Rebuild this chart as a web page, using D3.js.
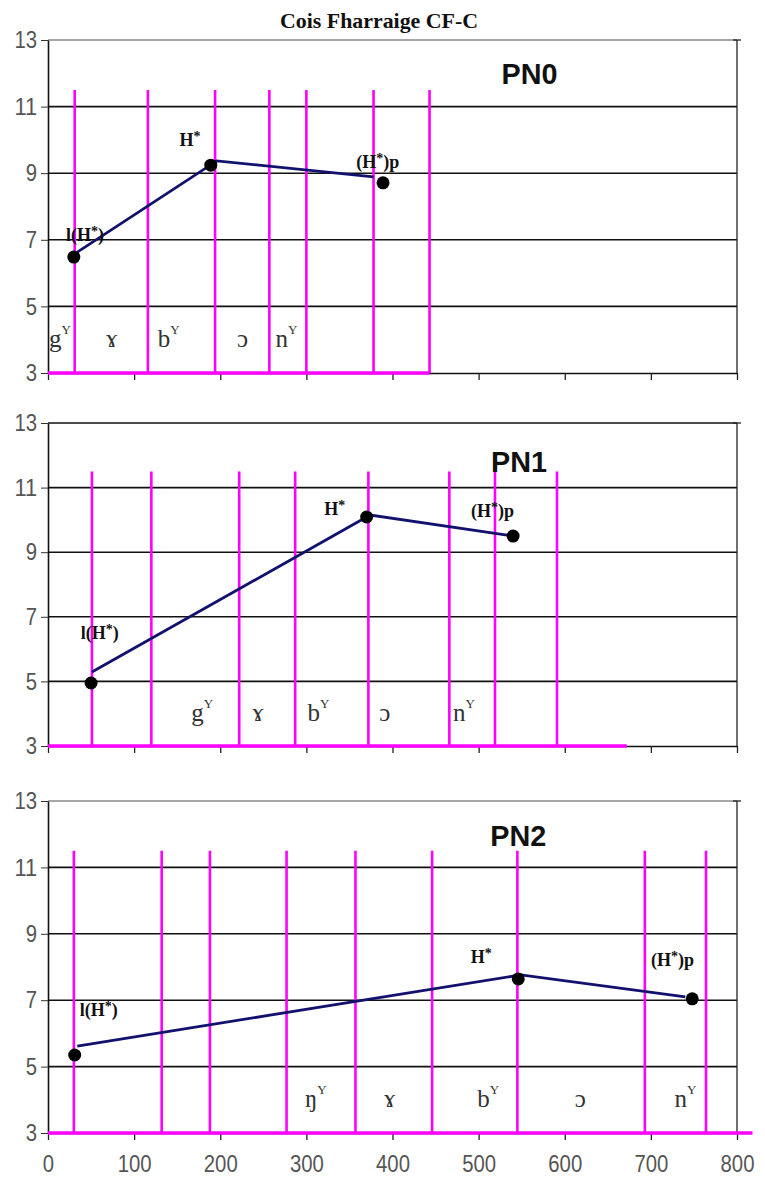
<!DOCTYPE html>
<html>
<head>
<meta charset="utf-8">
<script src="https://cdn.jsdelivr.net/npm/d3@7"></script>
<style>
  body { margin: 0; background: #fff; }
</style>
</head>
<body>
<div id="chart"></div>
<script>
// valeurs
const title = "Cois Fharraige CF-C";
const panelNames = ["PN0", "PN1", "PN2"];
const yTicks = [3, 5, 7, 9, 11, 13];
const xTicks = [0, 100, 200, 300, 400, 500, 600, 700, 800];

// frontieres des segments (lignes magenta)
const bounds0 = [31, 116, 194, 257, 300, 378, 443];
const bounds1 = [51, 120, 222, 287, 372, 466, 519, 591];
const bounds2 = [30, 132, 188, 277, 357, 446, 545, 693, 764];
const baseEnd = [443, 672, 818];

// cibles tonales (points) et contour (ligne)
const pointNames = ["l(H*)", "H*", "(H*)p"];
const dotX0 = [30, 189, 389], dotY0 = [6.48, 9.24, 8.71];
const dotX1 = [50, 370, 540], dotY1 = [4.95, 10.09, 9.5];
const dotX2 = [31, 546, 748], dotY2 = [5.35, 7.64, 7.04];
const lineX0 = [34, 196, 378], lineY0 = [6.63, 9.37, 8.89];
const lineX1 = [51, 374, 533], lineY1 = [5.29, 10.15, 9.53];
const lineX2 = [34, 549, 740], lineY2 = [5.62, 7.76, 7.1];

// etiquettes des points
const labX0 = [43, 165, 383], labY0 = [7.14, 10.0, 9.34];
const labX1 = [60, 333, 516], labY1 = [6.5, 10.34, 10.28];
const labX2 = [59, 503, 725], labY2 = [6.7, 8.3, 8.2];

// segments
const seg0 = ["g", "ɤ", "b", "ɔ", "n"], sup0 = ["Y", "", "Y", "", "Y"];
const seg1 = ["g", "ɤ", "b", "ɔ", "n"], sup1 = ["Y", "", "Y", "", "Y"];
const seg2 = ["ŋ", "ɤ", "b", "ɔ", "n"], sup2 = ["Y", "", "Y", "", "Y"];
const segX0 = [14, 74, 140, 226, 277];
const segX1 = [179, 244, 314, 391, 483];
const segX2 = [311, 397, 511, 618, 740];
const segY = 4.05;

// position des titres PN
const nameX = [559, 547, 546], nameY = [12.0, 11.8, 11.97];

const panels = [
  { bounds: bounds0, dx: dotX0, dy: dotY0, lx: lineX0, ly: lineY0, tx: labX0, ty: labY0, seg: seg0, sup: sup0, sx: segX0 },
  { bounds: bounds1, dx: dotX1, dy: dotY1, lx: lineX1, ly: lineY1, tx: labX1, ty: labY1, seg: seg1, sup: sup1, sx: segX1 },
  { bounds: bounds2, dx: dotX2, dy: dotY2, lx: lineX2, ly: lineY2, tx: labX2, ty: labY2, seg: seg2, sup: sup2, sx: segX2 }
];

const width = 765, height = 1193;
const panelTop = [40, 423, 801], panelBottom = [373, 746, 1133];
const sans = "'Liberation Sans', Arial, sans-serif";
const serif = "'Liberation Serif', 'Times New Roman', 'DejaVu Serif', serif";

const svg = d3.select("#chart").append("svg")
  .attr("width", width).attr("height", height)
  .style("background", "#fff");

const x = d3.scaleLinear().domain([0, 800]).range([48, 737]);

// Titre
svg.append("text")
  .attr("x", 379).attr("y", 21)
  .attr("text-anchor", "middle")
  .attr("dominant-baseline", "central")
  .attr("textLength", 198).attr("lengthAdjust", "spacingAndGlyphs")
  .style("font-family", serif)
  .style("font-weight", "bold")
  .style("font-size", "21px")
  .style("fill", "#111")
  .text(title);

function addLabel(g, px, py, s) {
  // l'asterisque est en exposant
  const t = g.append("text")
    .attr("x", px).attr("y", py)
    .attr("text-anchor", "middle")
    .style("font-family", serif)
    .style("font-weight", "bold")
    .style("font-size", "18px")
    .style("fill", "#111");
  const parts = s.split("*");
  parts.forEach((p, i) => {
    if (i > 0) t.append("tspan").attr("dy", -5).style("font-size", "14px").text("*");
    if (p) t.append("tspan").attr("dy", i > 0 ? 5 : 0).text(p);
  });
}

// chiffres etroits
function narrowText(sel, size) {
  sel.style("font-family", sans)
    .style("font-size", size + "px")
    .style("fill", "#555")
    .attr("textLength", function () { return this.textContent.length * 11.3; })
    .attr("lengthAdjust", "spacingAndGlyphs");
}

panels.forEach(function (p, k) {
  const y = d3.scaleLinear().domain([3, 13]).range([panelBottom[k], panelTop[k]]);
  const g = svg.append("g");

  // grille horizontale
  g.selectAll(".grid")
    .data(yTicks.filter((d) => d > 3))
    .enter().append("line")
    .attr("x1", x(0)).attr("x2", x(800))
    .attr("y1", (d) => y(d)).attr("y2", (d) => y(d))
    .style("stroke", (d) => (d === 13 && k !== 1 ? "#8a8a8a" : "#111"))
    .style("stroke-width", 1.6);

  // axe y
  const ya = g.append("g")
    .attr("transform", "translate(" + x(0) + ",0)")
    .call(d3.axisLeft(y).tickValues(yTicks).tickSize(7).tickSizeOuter(0));
  ya.select(".domain").style("stroke", "#111").style("stroke-width", 1.6);
  ya.selectAll(".tick line").style("stroke", "#333");
  ya.selectAll("text").attr("x", -11).call(narrowText, 24);

  // axe de droite
  g.append("line")
    .attr("x1", x(800)).attr("x2", x(800))
    .attr("y1", y(3)).attr("y2", y(13))
    .style("stroke", "#222").style("stroke-width", 1.3);
  g.append("line")
    .attr("x1", x(800) - 4).attr("x2", x(800) + 4)
    .attr("y1", y(13)).attr("y2", y(13))
    .style("stroke", "#222").style("stroke-width", 1.3);

  // axe x
  const xa = g.append("g")
    .attr("transform", "translate(0," + y(3) + ")")
    .call(d3.axisBottom(x).tickValues(xTicks).tickSize(7).tickSizeOuter(0)
      .tickFormat(k === 2 ? d3.format("d") : () => ""));
  xa.select(".domain").style("stroke", "#111").style("stroke-width", 1.6);
  xa.selectAll(".tick line").style("stroke", "#222").style("stroke-width", 1.3);
  if (k === 2) xa.selectAll("text").attr("y", 22).call(narrowText, 24);

  // lignes magenta
  g.selectAll(".bound")
    .data(p.bounds)
    .enter().append("line")
    .attr("x1", (d) => x(d)).attr("x2", (d) => x(d))
    .attr("y1", y(11.5)).attr("y2", y(3))
    .style("stroke", "#ff00ff")
    .style("stroke-width", 2.6);
  g.append("line")
    .attr("x1", x(0)).attr("x2", x(baseEnd[k]))
    .attr("y1", y(3)).attr("y2", y(3))
    .style("stroke", "#ff00ff")
    .style("stroke-width", 3.5);

  // segments
  p.seg.forEach(function (s, i) {
    const t = g.append("text")
      .attr("x", x(p.sx[i])).attr("y", y(segY))
      .attr("text-anchor", "middle")
      .attr("dominant-baseline", "central")
      .style("font-family", serif)
      .style("font-size", "25px")
      .style("fill", "#333")
      .text(s);
    if (p.sup[i]) t.append("tspan").attr("dy", -9).style("font-size", "13px").text(p.sup[i]);
  });

  // contour
  const line = d3.line().x((d) => x(d[0])).y((d) => y(d[1]));
  g.append("path")
    .datum(p.lx.map((v, i) => [v, p.ly[i]]))
    .attr("d", line)
    .style("fill", "none")
    .style("stroke", "#12126e")
    .style("stroke-width", 2.8);

  // points
  g.selectAll(".dot")
    .data(p.dx.map((v, i) => [v, p.dy[i]]))
    .enter().append("circle")
    .attr("cx", (d) => x(d[0])).attr("cy", (d) => y(d[1]))
    .attr("r", 6.5)
    .style("fill", "#000");

  pointNames.forEach((s, i) => addLabel(g, x(p.tx[i]), y(p.ty[i]) + 6, s));

  // nom du panneau
  g.append("text")
    .attr("x", x(nameX[k])).attr("y", y(nameY[k]))
    .attr("text-anchor", "middle")
    .attr("dominant-baseline", "central")
    .attr("textLength", 56).attr("lengthAdjust", "spacingAndGlyphs")
    .style("font-family", sans)
    .style("font-weight", "bold")
    .style("font-size", "30px")
    .style("fill", "#111")
    .text(panelNames[k]);
});
</script>
</body>
</html>
